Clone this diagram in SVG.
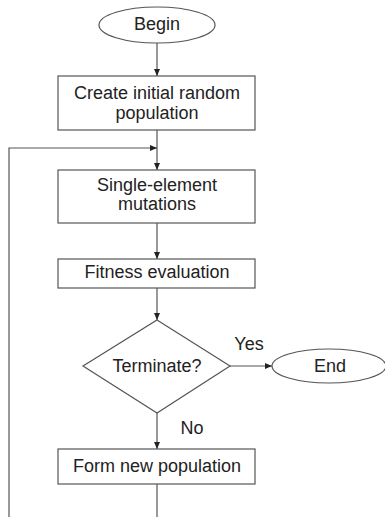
<svg xmlns="http://www.w3.org/2000/svg" width="385" height="517" viewBox="0 0 385 517">
<style>
.s{fill:#fff;stroke:#555;stroke-width:1.2}
.t{font-family:"Liberation Sans",Arial,sans-serif;font-size:18px;fill:#222;text-anchor:middle}
.c{fill:none;stroke:#555;stroke-width:1.2}
</style>
<defs>
<marker id="a" markerWidth="8" markerHeight="8" refX="7" refY="4" orient="auto" markerUnits="userSpaceOnUse">
<path d="M0,1 L7,4 L0,7 Z" fill="#222"/>
</marker>
</defs>
<rect width="385" height="517" fill="#fff"/>
<g id="connectors">
<path class="c" d="M157,43 V76" marker-end="url(#a)"/>
<path class="c" d="M157,130 V170" marker-end="url(#a)"/>
<path class="c" d="M9,517 V148 H157" marker-end="url(#a)"/>
<path class="c" d="M157,223 V259" marker-end="url(#a)"/>
<path class="c" d="M157,288 V320" marker-end="url(#a)"/>
<path class="c" d="M230,366 H272" marker-end="url(#a)"/>
<path class="c" d="M157,413 V449" marker-end="url(#a)"/>
<path class="c" d="M157,484 V517"/>
<text class="t" x="249" y="350">Yes</text>
<text class="t" x="192" y="434">No</text>
</g>
<g id="begin">
<ellipse class="s" cx="157" cy="25" rx="58" ry="18"/>
<text class="t" x="157" y="30">Begin</text>
</g>
<g id="create">
<rect class="s" x="58" y="76" width="197" height="54"/>
<text class="t" x="157" y="99">Create initial random</text>
<text class="t" x="157" y="119">population</text>
</g>
<g id="mutations">
<rect class="s" x="58" y="170" width="197" height="53"/>
<text class="t" x="157" y="191">Single-element</text>
<text class="t" x="157" y="210">mutations</text>
</g>
<g id="fitness">
<rect class="s" x="58" y="259" width="197" height="29"/>
<text class="t" x="157" y="278">Fitness evaluation</text>
</g>
<g id="terminate">
<polygon class="s" points="157,320 230,366 157,413 83,366"/>
<text class="t" x="157" y="372">Terminate?</text>
</g>
<g id="end">
<ellipse class="s" cx="329" cy="366" rx="57" ry="17"/>
<text class="t" x="330" y="372">End</text>
</g>
<g id="form">
<rect class="s" x="58" y="449" width="197" height="35"/>
<text class="t" x="157" y="472">Form new population</text>
</g>
</svg>
